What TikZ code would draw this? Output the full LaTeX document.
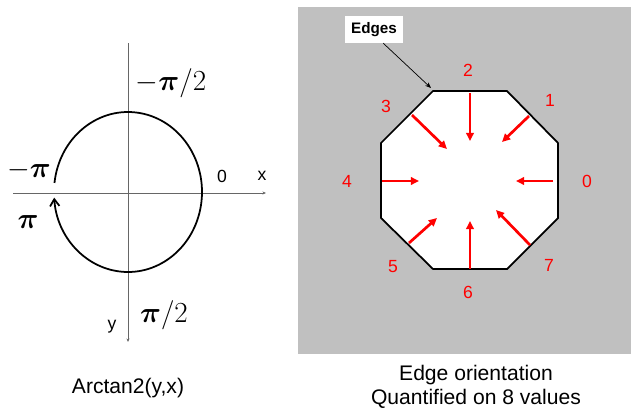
\documentclass[tikz,border=0pt]{standalone}
\usepackage{bm}
\usepackage{fontspec}
\setmainfont{Liberation Serif}
\setsansfont{Liberation Sans}
\usepackage{tikz}
\usetikzlibrary{arrows.meta}
\definecolor{panelgray}{RGB}{192,192,192}
\definecolor{dirred}{RGB}{255,0,0}

\begin{document}
\begin{tikzpicture}[
  x=0.03cm, y=-0.03cm,
  font=\sffamily,
  axis/.style={draw=gray!80!black, line width=0.5pt, -{Stealth[length=3pt,width=2.5pt]}},
  turn/.style={line width=1.5pt, -{Straight Barb[length=6pt,width=8pt]}},
  angle/.style={font=\fontsize{30}{30}\selectfont, inner sep=0pt},
  lbl/.style={font=\sffamily\fontsize{15}{15}\selectfont, inner sep=0pt},
  dirnum/.style={lbl, text=dirred},
  darr/.style={-{Triangle[length=7pt,width=6.5pt]}, line width=2.3pt, dirred},
  caption/.style={font=\sffamily\fontsize{18}{20}\selectfont, align=center, inner sep=0pt}
]
\useasboundingbox[fill=white] (0,0) rectangle (632,411);

% left: arctan2 circle
\draw[axis] (13,193) -- (266,193);
\draw[axis] (128,43) -- (128,342);
\draw[turn] ([shift={(186.5:74 and 80)}]128,192)
  arc[start angle=186.5, end angle=536, x radius=74, y radius=80];
\node[angle] (mhalf) at (171,83)  {$-\bm{\pi}/2$};
\node[angle] (mpi)   at (29,170)  {$-\bm{\pi}$};
\node[angle] (ppi)   at (28,222)  {$\bm{\pi}$};
\node[angle] (phalf) at (164,315) {$\bm{\pi}/2$};
\node[lbl] (zero) at (222,176) {0};
\node[lbl] (xlab) at (262,176) {x};
\node[lbl] (ylab) at (112,327) {y};
\node[caption] (atan) at (128,388) {Arctan2(y,x)};

% right: octagon with the 8 directions
\fill[panelgray] (298,7) rectangle (631,354);
\coordinate (tl) at (433,91);  \coordinate (tr) at (507,91);
\coordinate (rt) at (558,143); \coordinate (rb) at (558,218);
\coordinate (br) at (507,269); \coordinate (bl) at (433,269);
\coordinate (lb) at (381,218); \coordinate (lt) at (381,143);
\filldraw[fill=white, line width=1.5pt] (tl)--(tr)--(rt)--(rb)--(br)--(bl)--(lb)--(lt)--cycle;
\draw[darr] (470,93)  -- (470,141); % 2
\draw[darr] (470,269) -- (470,221); % 6
\draw[darr] (553,181) -- (516,181); % 0
\draw[darr] (382,181) -- (419,181); % 4
\draw[darr] (529,116) -- (502,142); % 1
\draw[darr] (412,115) -- (447,149); % 3
\draw[darr] (409,243) -- (437,218); % 5
\draw[darr] (530,245) -- (496,210); % 7
\node[dirnum] (d0) at (587,181) {0};
\node[dirnum] (d1) at (550,100) {1};
\node[dirnum] (d2) at (468,70)  {2};
\node[dirnum] (d3) at (386,106) {3};
\node[dirnum] (d4) at (347,181) {4};
\node[dirnum] (d5) at (393,267) {5};
\node[dirnum] (d6) at (468,292) {6};
\node[dirnum] (d7) at (549,265) {7};
\node[fill=white, font=\sffamily\bfseries\fontsize{13}{13}\selectfont,
      minimum width=1.74cm, minimum height=0.81cm] (edges) at (374,29.5) {Edges};
\draw[-{Stealth[length=5pt,width=4pt]}, line width=0.6pt] (edges.-56) -- ([shift={(-2,-3)}]tl);
\node[caption] (orient) at (476,387) {Edge orientation\\Quantified on 8 values};
\end{tikzpicture}
\end{document}
